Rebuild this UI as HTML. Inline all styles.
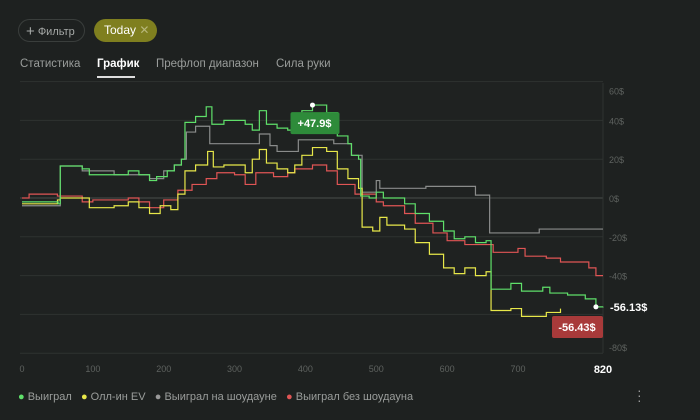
<!DOCTYPE html>
<html><head><meta charset="utf-8">
<style>
body{margin:0;width:700px;height:420px;background:#1e2120;font-family:"Liberation Sans",sans-serif;overflow:hidden;position:relative}
.pill{position:absolute;top:19px;height:23px;border-radius:12px;font-size:11px;line-height:23px;box-sizing:border-box;white-space:nowrap}
.tab{position:absolute;top:58px;font-size:11.5px;color:#9a9d9b}
</style></head><body>
<div class="pill" style="left:18px;width:67px;border:1px solid #3a3e3c;color:#a6a9a7;padding-left:7px"><span style="font-size:15px;vertical-align:-1px">+</span> Фильтр</div>
<div class="pill" style="left:94px;width:63px;background:#7f7f1f;color:#fff;padding-left:10px;font-size:12px">Today <span style="color:#b7b77a">✕</span></div>
<div class="tab" style="left:20px">Статистика</div>
<div class="tab" style="left:97px;color:#fff;font-weight:bold">График</div>
<div style="position:absolute;left:97px;top:76px;width:38px;height:2px;background:#ddd"></div>
<div class="tab" style="left:156px">Префлоп диапазон</div>
<div class="tab" style="left:276px">Сила руки</div>
<svg id="c" width="700" height="420" style="position:absolute;left:0;top:0"></svg>
<div style="position:absolute;left:18px;top:391px;font-size:11px;color:#9a9d9b;white-space:nowrap">
<span><span style="color:#5fe06a">●</span> Выиграл</span>&nbsp;&nbsp;
<span><span style="color:#e8e84a">●</span> Олл-ин EV</span>&nbsp;&nbsp;
<span><span style="color:#999">●</span> Выиграл на шоудауне</span>&nbsp;&nbsp;
<span><span style="color:#e05555">●</span> Выиграл без шоудауна</span></div>
<div style="position:absolute;left:637px;top:388px;color:#999;font-size:14px;line-height:5px">·<br>·<br>·</div>
<script>
const greenH=[0,51,54,85,95,130,150,165,180,190,205,215,225,230,245,260,268,285,315,325,335,345,360,375,395,410,430,445,460,465,475,478,490,500,510,540,555,575,595,610,625,640,655,662,690,705,735,745,770,795,810,820];
const greenV=[-2,-3,16.5,15,12,12,14,12,9,11,14,17,20,39,42,47,38,40,38,35,45,38,36,35,45,47.9,44,32,28,22,20,1,0,3,0,-3,-8,-12,-17,-21,-20,-23,-22,-47,-44,-48,-46,-49,-50,-52,-56.13,-56];
const yellowH=[0,50,54,95,130,150,165,180,195,210,220,230,245,262,270,285,315,325,335,345,360,375,385,395,410,430,445,460,475,480,495,505,515,540,555,575,595,610,625,640,655,662,690,705,740,760];
const yellowV=[-3,-1,0,-5,-4,-2,-5,-8,-4,-6,2,14,17,24,16,17,13,20,25,18,15,13,17,22,26,24,15,10,5,-15,-17,-10,-14,-16,-23,-29,-36,-39,-36,-40,-38,-58,-57,-61,-59,-57];
const redH=[0,10,50,85,100,150,165,180,200,220,240,260,275,300,315,330,355,375,385,410,430,445,470,500,510,540,555,580,600,625,650,665,700,710,740,760,800,810,820];
const redV=[0,2,1,-2,-1,0,-2,-5,-1,4,7,10,13,12,7,13,11,13,15,17,14,7,2,-2,-4,-8,-13,-18,-22,-24,-24,-28,-26,-30,-31,-33,-36,-40,-40];
const grayH=[0,54,85,130,165,180,200,215,225,232,245,265,330,335,350,360,390,440,465,480,500,505,570,640,660,730,820];
const grayV=[-4,16.5,14,12,12,10,14,17,20,34,37,28,28,33,27,24,30,28,22,3,9,5,6,1.5,-18,-16,-16];
const yTicks=[60,40,20,0,-20,-40,-60,-80];
const xTicks=[0,100,200,300,400,500,600,700];
const xMax=820;
const X=h=>22+h*(603-22)/820;
const Y=v=>198-v*38.8/20;
const svg=document.getElementById('c');const NS='http://www.w3.org/2000/svg';
function mk(t,a){const e=document.createElementNS(NS,t);for(const k in a)e.setAttribute(k,a[k]);svg.appendChild(e);return e;}
let bg=mk('rect',{x:20,y:83,width:583,height:270,fill:'#1f2221'});


yTicks.forEach(v=>{
 const l=mk('line',{x1:20,x2:603,y1:Y(v),y2:Y(v),stroke:v===0?'#4a4e4c':'#2f3331','stroke-width':1});
 
 
 if(v===-60)return;
 let ty=Y(v)+4;if(v===60)ty=Y(v)+13;if(v===-80)ty=Y(v)-2;
 const t=mk('text',{x:609,y:ty,fill:'#5e625f','font-size':9});t.textContent=v+'$';
 
 
});
mk('line',{x1:603,x2:603,y1:83,y2:353,stroke:'#2f3331'});
xTicks.forEach(h=>{
 const t=mk('text',{x:X(h),y:372,fill:'#5e625f','font-size':9,'text-anchor':'middle'});t.textContent=h;
 
 
});
const xl=mk('text',{x:X(xMax),y:373,fill:'#fff','font-size':11,'font-weight':'bold','text-anchor':'middle'});xl.textContent=xMax;


function series(H,V,col,name){
 let d='M'+X(H[0])+','+Y(V[0]);
 for(let i=1;i<H.length;i++){d+='H'+X(H[i])+'V'+Y(V[i]);}
 const p=mk('path',{d:d,fill:'none',stroke:col,'stroke-width':1.2});
 
 
}
series(grayH,grayV,'#8a8c8b','series-showdown');
series(redH,redV,'#e05555','series-non-showdown');
series(yellowH,yellowV,'#e8e84a','series-allin-ev');
series(greenH,greenV,'#5fe06a','series-won');
const pi=greenV.indexOf(Math.max(...greenV));
const px=X(greenH[pi]),py=Y(greenV[pi]);
const pd=mk('circle',{cx:px,cy:py,r:2.5,fill:'#fff'});


const pb=mk('rect',{x:px-22,y:py+7,width:49,height:22,rx:2,fill:'#2e8b3a'});


const pt=mk('text',{x:px+2,y:py+22,fill:'#fff','font-size':11,'font-weight':'bold','text-anchor':'middle'});pt.textContent='+'+greenV[pi]+'$';


const ex=X(greenH[greenH.length-2]),ey=Y(greenV[greenV.length-2]);
const ed=mk('circle',{cx:ex,cy:ey,r:2.5,fill:'#fff'});


const et=mk('text',{x:610,y:ey+4,fill:'#fff','font-size':11,'font-weight':'bold'});et.textContent=greenV[greenV.length-2]+'$';


const mb=mk('rect',{x:552,y:316,width:51,height:22,rx:2,fill:'#a83a3a'});


const mt=mk('text',{x:577,y:331,fill:'#fff','font-size':11,'font-weight':'bold','text-anchor':'middle'});mt.textContent='-56.43$';


</script>
</body></html>
